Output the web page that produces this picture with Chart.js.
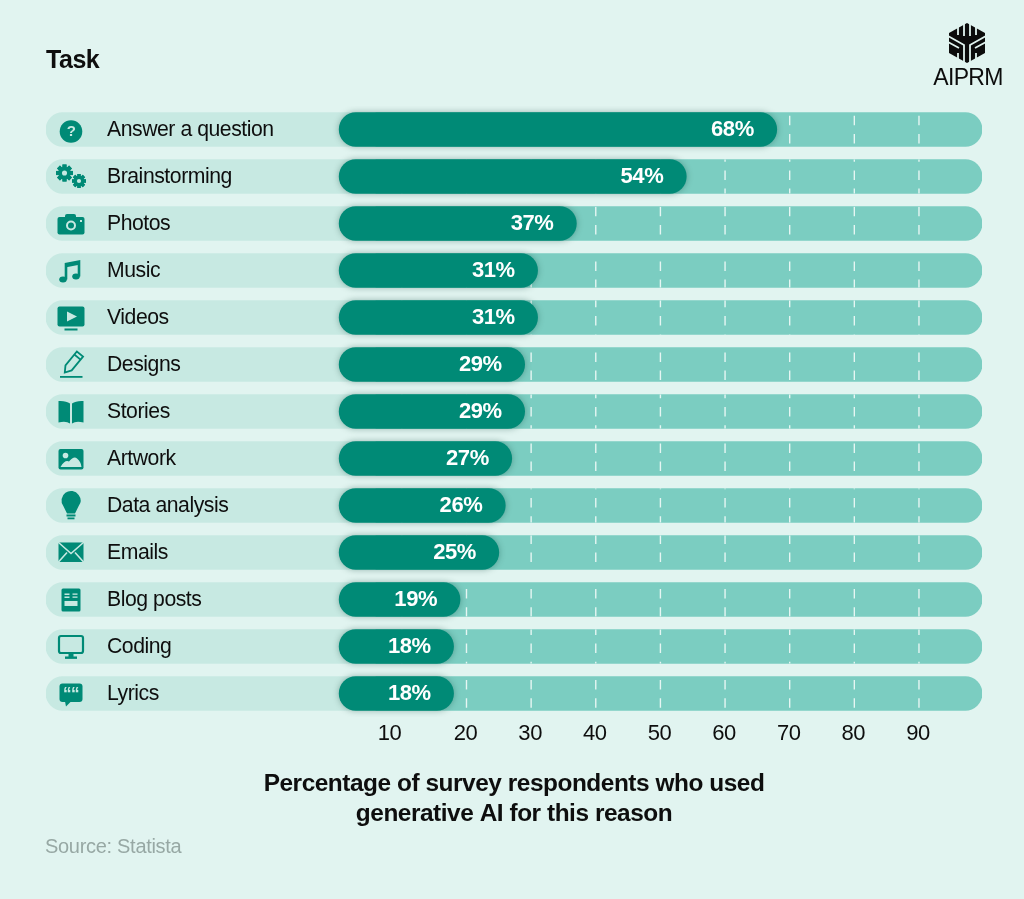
<!DOCTYPE html>
<html lang="en">
<head>
<meta charset="utf-8">
<title>Task</title>
<script src="https://cdn.jsdelivr.net/npm/chart.js@4/dist/chart.umd.min.js"></script>
<style>
  html, body { margin: 0; padding: 0; background: #e1f4f0; }
  #wrap { position: relative; width: 1024px; height: 899px; overflow: hidden; }
  canvas { display: block; }
  .source { position: absolute; left: 45px; top: 835px; font: 20px "Liberation Sans", sans-serif; letter-spacing: -0.3px; color: #97a8a4; }
  .brand { position: absolute; left: 920px; width: 96px; top: 64px; text-align: center; font: 23px "Liberation Sans", sans-serif; letter-spacing: -0.7px; color: #0c0c0c; }
  .logo { position: absolute; left: 947px; top: 22px; }
</style>
</head>
<body>
<div id="wrap">
  <canvas id="taskChart" width="1024" height="899"></canvas>
  <svg class="logo" width="40" height="42" viewBox="-20 -21 40 42">
    <polygon points="0,-20 18,-10 18,10 0,20 -18,10 -18,-10" fill="#0c0c0c"/>
    <g stroke="#e1f4f0" stroke-width="1.8" fill="none">
      <path d="M-3,-21 V-7 M3,-21 V-7 M-3,21 V8 M3,21 V8"/>
      <path d="M-19,-7 L-3,2 V8 M19,-7 L3,2 V8 M-19,-1 L-8,5 M19,-1 L8,5"/>
      <path d="M-9,-17 V-8 M9,-17 V-8 M-9,10 V17 M9,10 V17"/>
    </g>
  </svg>
  <div class="brand">AIPRM</div>
  <div class="source">Source: Statista</div>
</div>

<script>
const categories = ['Answer a question', 'Brainstorming', 'Photos', 'Music', 'Videos', 'Designs', 'Stories',
  'Artwork', 'Data analysis', 'Emails', 'Blog posts', 'Coding', 'Lyrics'];
const values = [68, 54, 37, 31, 31, 29, 29, 27, 26, 25, 19, 18, 18];
const tickValues = [10, 20, 30, 40, 50, 60, 70, 80, 90];

const axisMin = -45.05;   // room for the label column left of zero
const axisMax = 99.75;
const trackSplit = 6;     // pale label part ends under the dark bar
const barStart = 0.3;

const PALE = '#c7e9e2';
const MID = '#7bcdc1';
const DARK = '#008a76';
const INK = '#0e0e0e';
const FONT = '"Liberation Sans", sans-serif';

// icons are drawn around (0,0), roughly 26px wide
function gear(ctx, x, y, r) {
  ctx.fillStyle = DARK;
  for (let i = 0; i < 8; i++) {
    ctx.save();
    ctx.translate(x, y);
    ctx.rotate(i * Math.PI / 4);
    ctx.fillRect(-r * 0.24, -r, r * 0.48, r * 2);
    ctx.restore();
  }
  ctx.beginPath(); ctx.arc(x, y, r * 0.74, 0, Math.PI * 2); ctx.fill();
  ctx.fillStyle = PALE;
  ctx.beginPath(); ctx.arc(x, y, r * 0.3, 0, Math.PI * 2); ctx.fill();
}

function roundBox(ctx, x, y, w, h, r, color) {
  ctx.fillStyle = color;
  ctx.beginPath(); ctx.roundRect(x, y, w, h, r); ctx.fill();
}

const icons = [
  function question(ctx) {
    ctx.fillStyle = DARK;
    ctx.beginPath(); ctx.arc(0, 2, 11.3, 0, Math.PI * 2); ctx.fill();
    ctx.fillStyle = PALE;
    ctx.font = 'bold 15px ' + FONT;
    ctx.textAlign = 'center';
    ctx.textBaseline = 'middle';
    ctx.fillText('?', 0, 2.5);
  },
  function gears(ctx) {
    gear(ctx, -6.5, -3.5, 8.5);
    gear(ctx, 8, 4.5, 7);
  },
  function camera(ctx) {
    roundBox(ctx, -13.5, -6.5, 27, 17.5, 2, DARK);
    roundBox(ctx, -6, -9.5, 11, 5, 2, DARK);
    ctx.strokeStyle = PALE;
    ctx.lineWidth = 2;
    ctx.beginPath(); ctx.arc(0, 2, 4, 0, Math.PI * 2); ctx.stroke();
    ctx.fillStyle = PALE;
    ctx.fillRect(9, -3.5, 2, 2);
  },
  function music(ctx) {
    ctx.strokeStyle = DARK;
    ctx.fillStyle = DARK;
    ctx.lineWidth = 2.6;
    ctx.beginPath(); ctx.moveTo(-5, 9); ctx.lineTo(-5, -6.5); ctx.lineTo(8, -9); ctx.lineTo(8, 6); ctx.stroke();
    ctx.lineWidth = 3.4;
    ctx.beginPath(); ctx.moveTo(-5, -5); ctx.lineTo(8, -7.5); ctx.stroke();
    ctx.beginPath(); ctx.ellipse(-8, 9, 3.8, 3, 0, 0, Math.PI * 2); ctx.fill();
    ctx.beginPath(); ctx.ellipse(5, 6, 3.8, 3, 0, 0, Math.PI * 2); ctx.fill();
  },
  function video(ctx) {
    roundBox(ctx, -13.5, -11, 27, 20, 2, DARK);
    ctx.fillStyle = PALE;
    ctx.beginPath(); ctx.moveTo(-4, -6); ctx.lineTo(6, -1); ctx.lineTo(-4, 4); ctx.fill();
    ctx.fillStyle = DARK;
    ctx.fillRect(-6.5, 11, 13, 2);
  },
  function pencil(ctx) {
    ctx.save();
    ctx.translate(2, -2);
    ctx.rotate(-Math.PI / 4 - 0.1);
    ctx.strokeStyle = DARK;
    ctx.lineWidth = 1.8;
    ctx.beginPath();
    ctx.moveTo(-13, 0); ctx.lineTo(-7, -4); ctx.lineTo(11, -4); ctx.lineTo(11, 4); ctx.lineTo(-7, 4); ctx.closePath();
    ctx.stroke();
    ctx.beginPath(); ctx.moveTo(7, -4); ctx.lineTo(7, 4); ctx.stroke();
    ctx.restore();
    ctx.fillStyle = DARK;
    ctx.fillRect(-11, 11.5, 22.5, 1.8);
  },
  function book(ctx) {
    ctx.fillStyle = DARK;
    ctx.beginPath();
    ctx.moveTo(-1, -8); ctx.quadraticCurveTo(-5, -11, -12.5, -10.5); ctx.lineTo(-12.5, 11);
    ctx.quadraticCurveTo(-5, 9, -1, 12); ctx.fill();
    ctx.beginPath();
    ctx.moveTo(1, -8); ctx.quadraticCurveTo(5, -11, 12.5, -10.5); ctx.lineTo(12.5, 11);
    ctx.quadraticCurveTo(5, 9, 1, 12); ctx.fill();
  },
  function picture(ctx) {
    roundBox(ctx, -12.5, -9.5, 25, 20.5, 2, DARK);
    ctx.fillStyle = PALE;
    ctx.beginPath(); ctx.arc(-5.5, -3, 2.8, 0, Math.PI * 2); ctx.fill();
    ctx.beginPath();
    ctx.moveTo(-10.5, 8.5); ctx.quadraticCurveTo(-6, 1, -2, 3); ctx.quadraticCurveTo(3, -3, 6, 0);
    ctx.quadraticCurveTo(10, 3, 10.5, 8.5); ctx.fill();
  },
  function bulb(ctx) {
    ctx.fillStyle = DARK;
    ctx.beginPath();
    ctx.arc(0, -5, 9.5, Math.PI * 0.8, Math.PI * 0.2);
    ctx.lineTo(4, 8); ctx.lineTo(-4, 8); ctx.closePath(); ctx.fill();
    ctx.fillRect(-4.5, 9, 9, 2);
    ctx.fillRect(-3.5, 12, 7, 1.8);
  },
  function envelope(ctx) {
    ctx.fillStyle = DARK;
    ctx.fillRect(-12.5, -10, 25, 19.5);
    ctx.strokeStyle = PALE;
    ctx.lineWidth = 1.6;
    ctx.beginPath();
    ctx.moveTo(-13, -10.5); ctx.lineTo(0, 1); ctx.lineTo(13, -10.5);
    ctx.moveTo(-13, 10); ctx.lineTo(-4, 0); ctx.moveTo(13, 10); ctx.lineTo(4, 0);
    ctx.stroke();
  },
  function blog(ctx) {
    roundBox(ctx, -9.5, -11, 19, 23, 1.5, DARK);
    ctx.fillStyle = PALE;
    ctx.fillRect(-6.5, -6, 5, 1.5); ctx.fillRect(-6.5, -3, 5, 1.5);
    ctx.fillRect(1.5, -6, 5, 1.3); ctx.fillRect(1.5, -3, 5, 1.3);
    ctx.fillRect(-6.5, 1.5, 13, 5);
  },
  function monitor(ctx) {
    ctx.strokeStyle = DARK;
    ctx.lineWidth = 2.2;
    ctx.beginPath(); ctx.roundRect(-12, -10.5, 24, 17, 2); ctx.stroke();
    ctx.fillStyle = DARK;
    ctx.fillRect(-2.5, 6.5, 5, 4);
    ctx.fillRect(-6, 10, 12, 2.4);
  },
  function bubble(ctx) {
    roundBox(ctx, -11.5, -10, 23, 18.5, 3, DARK);
    ctx.beginPath(); ctx.moveTo(-6, 8); ctx.lineTo(-5, 13); ctx.lineTo(0, 8); ctx.fill();
    ctx.fillStyle = PALE;
    ctx.font = 'bold 17px ' + FONT;
    ctx.textAlign = 'center';
    ctx.textBaseline = 'middle';
    ctx.fillText('\u201C\u201C', 0, 1);
  }
];

const barExtras = {
  id: 'barExtras',
  beforeDraw(chart) {
    chart.ctx.letterSpacing = '-0.45px';
  },
  beforeDatasetDraw(chart, args) {
    // soft shadow round the dark bars
    if (args.index === 0) {
      chart.ctx.save();
      chart.ctx.shadowColor = 'rgba(0, 60, 50, 0.35)';
      chart.ctx.shadowBlur = 6;
    }
  },
  afterDatasetDraw(chart, args) {
    const ctx = chart.ctx;
    if (args.index === 0) {
      ctx.restore();
    }
    // dashed gridlines sit on the track but under the dark bars
    if (args.index === 1) {
      const x = chart.scales.x;
      const rows = chart.getDatasetMeta(1).data;
      const rowHeight = rows[0].height;
      ctx.save();
      ctx.beginPath();
      rows.forEach(bar => ctx.rect(chart.chartArea.left, bar.y - rowHeight / 2, chart.width, rowHeight));
      ctx.clip();
      ctx.strokeStyle = '#e6f6f3';
      ctx.lineWidth = 1.4;
      ctx.setLineDash([9.5, 8.7]);
      const top = rows[0].y - rowHeight / 2 + 3.3;
      tickValues.forEach(v => {
        const px = x.getPixelForValue(v);
        ctx.beginPath();
        ctx.moveTo(px, top);
        ctx.lineTo(px, chart.chartArea.bottom);
        ctx.stroke();
      });
      ctx.restore();
    }
  },
  afterDatasetsDraw(chart) {
    const ctx = chart.ctx;
    const y = chart.scales.y;
    const x = chart.scales.x;
    // value labels
    ctx.save();
    ctx.font = 'bold 22px ' + FONT;
    ctx.fillStyle = '#ffffff';
    ctx.textAlign = 'right';
    ctx.textBaseline = 'middle';
    chart.getDatasetMeta(0).data.forEach((bar, i) => {
      ctx.fillText(values[i] + '%', bar.x - 23, bar.y);
    });
    ctx.restore();
    // task icons
    icons.forEach((draw, i) => {
      ctx.save();
      ctx.translate(x.left + 25, y.getPixelForValue(i));
      draw(ctx);
      ctx.restore();
    });
  }
};

function initializeChart() {
  const ctx = document.getElementById('taskChart').getContext('2d');
  new Chart(ctx, {
    type: 'bar',
    data: {
      labels: categories,
      datasets: [
        {
          label: 'Respondents',
          data: values,
          base: barStart,
          backgroundColor: DARK,
          borderRadius: 17
        },
        {
          label: 'Track',
          data: categories.map(() => [trackSplit, axisMax]),
          backgroundColor: MID,
          borderRadius: { topRight: 17, bottomRight: 17 }
        },
        {
          label: 'Label track',
          data: categories.map(() => [axisMin, trackSplit]),
          backgroundColor: PALE,
          borderRadius: { topLeft: 17, bottomLeft: 17 }
        }
      ]
    },
    options: {
      indexAxis: 'y',
      responsive: false,
      animation: false,
      grouped: false,
      barThickness: 34,
      borderSkipped: false,
      layout: { padding: { left: 46, right: 42, top: 0, bottom: 70 } },
      plugins: {
        legend: { display: false },
        tooltip: { enabled: false },
        title: {
          display: true,
          text: 'Task',
          align: 'start',
          color: INK,
          font: { family: FONT, size: 25, weight: 'bold', lineHeight: 1.2 },
          padding: { top: 46, bottom: 30 }
        }
      },
      scales: {
        x: {
          min: axisMin,
          max: axisMax,
          grid: { display: false, drawTicks: false },
          border: { display: false },
          afterBuildTicks(axis) {
            axis.ticks = tickValues.map(v => ({ value: v }));
          },
          ticks: {
            autoSkip: false,
            maxRotation: 0,
            color: INK,
            padding: 4,
            labelOffset: -1,
            font: { family: FONT, size: 22 },
            // the 10 label sits left of its grid position in the original
            callback: v => (v === 10 ? '10\u00a0\u00a0\u00a0\u00a0' : String(v))
          },
          title: {
            display: true,
            text: ['Percentage of survey respondents who used', 'generative AI for this reason'],
            color: INK,
            font: { family: FONT, size: 24.4, weight: 'bold', lineHeight: 1.23 },
            padding: { top: 17.6, bottom: 0 }
          }
        },
        y: {
          grid: { display: false, drawTicks: false },
          border: { display: false },
          // labels sit inside the pale track, so the axis takes no width
          afterFit(axis) {
            axis.width = 0;
          },
          ticks: {
            mirror: true,
            z: 1,
            padding: 61,
            labelOffset: 1,
            color: INK,
            font: { family: FONT, size: 21.2 }
          }
        }
      }
    },
    plugins: [barExtras]
  });
}

document.addEventListener('DOMContentLoaded', initializeChart);
</script>
</body>
</html>
